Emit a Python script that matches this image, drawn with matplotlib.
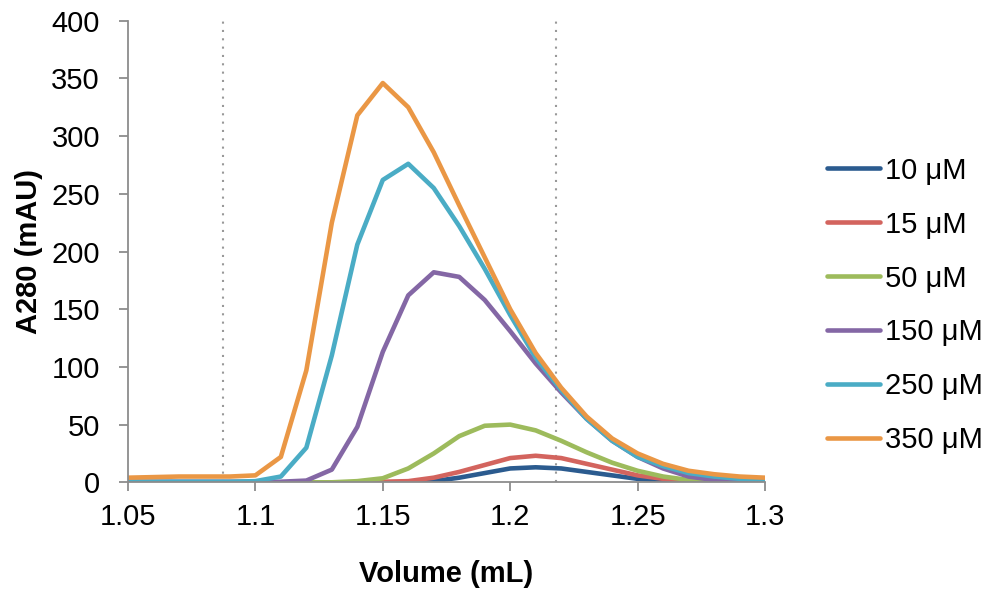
import numpy as np
import matplotlib; matplotlib.use('Agg')
import matplotlib.pyplot as plt

plt.rcParams['font.family'] = ['Liberation Sans', 'DejaVu Sans']

#===============================================================================
# Data (volume in mL, A280 in mAU)
#===============================================================================
volume = [1.05, 1.06, 1.07, 1.08, 1.09, 1.10, 1.11, 1.12, 1.13, 1.14, 1.15,
          1.16, 1.17, 1.18, 1.19, 1.20, 1.21, 1.22, 1.23, 1.24, 1.25, 1.26,
          1.27, 1.28, 1.29, 1.30]

a_10uM  = [0, 0, 0, 0, 0, 0, 0, 0, 0, 0, 0,
           0, 1, 4, 8, 12, 13, 12, 9, 6, 3, 1.5, 0.5, 0, 0, 0]
a_15uM  = [0, 0, 0, 0, 0, 0, 0, 0, 0, 0, 0.5,
           1, 4, 9, 15, 21, 23, 21, 16, 11, 6, 3, 1, 0.5, 0, 0]
a_50uM  = [0, 0, 0, 0, 0, 0, 0, 0, 0, 1, 3.5,
           12, 25, 40, 49, 50, 45, 36, 26, 17, 10, 5, 2, 1, 0.5, 0.5]
a_150uM = [0.5, 0.5, 0.5, 0.5, 0.5, 0.5, 0.5, 1.5, 11, 48, 113,
           162, 182, 178, 158, 131, 103, 78, 55, 36, 22, 12, 5, 2, 1, 0.5]
a_250uM = [0.5, 0.5, 0.5, 0.5, 0.5, 1, 5, 30, 110, 206, 262,
           276, 255, 222, 185, 145, 108, 80, 55, 36, 22, 14, 8, 5, 3, 2]
a_350uM = [4, 4.5, 5, 5, 5, 6, 22, 97, 225, 318, 346,
           325, 286, 240, 195, 150, 112, 82, 57, 38, 25, 16, 10, 7, 5, 4]

labels = ['10 μM', '15 μM', '50 μM', '150 μM', '250 μM', '350 μM']
series = [a_10uM, a_15uM, a_50uM, a_150uM, a_250uM, a_350uM]
colors = ['#2B5B8F', '#D3645E', '#9DBB5C', '#8467A5', '#4AACC5', '#EA9745']

# fraction boundaries (dotted markers)
cut_lo = 1.0873
cut_hi = 1.2180

#===============================================================================
# Plot
#===============================================================================
fig = plt.figure(figsize=(9.89, 5.92), dpi=100)
ax = fig.add_axes([0.1294, 0.1853, 0.6441, 0.7797])

for y, lab, col in zip(series, labels, colors):
    ax.plot(volume, y, color=col, lw=3.3, label=lab, solid_capstyle='round')

ax.axvline(cut_lo, color='#999999', ls=(0, (1, 3)), lw=1.5, zorder=0)
ax.axvline(cut_hi, color='#999999', ls=(0, (1, 3)), lw=1.5, zorder=0)

ax.set_xlim(1.05, 1.3)
ax.set_ylim(0, 400)
ax.set_xticks([1.05, 1.1, 1.15, 1.2, 1.25, 1.3])
ax.set_xticklabels(['1.05', '1.1', '1.15', '1.2', '1.25', '1.3'])
ax.set_yticks(range(0, 401, 50))

for s in ['top', 'right']:
    ax.spines[s].set_visible(False)
for s in ['left', 'bottom']:
    ax.spines[s].set_color('#8C8C8C')
    ax.spines[s].set_linewidth(1.3)
ax.tick_params(colors='#8C8C8C', labelcolor='black', labelsize=21,
               length=6.7, width=1.3, direction='out')
ax.tick_params(axis='x', pad=8)
ax.tick_params(axis='y', pad=13.5)

ax.set_xlabel('Volume (mL)', fontsize=21, fontweight='bold')
ax.set_ylabel('A280 (mAU)', fontsize=21, fontweight='bold')
ax.xaxis.set_label_coords(0.5, -0.168)
ax.yaxis.set_label_coords(-0.134, 0.5)

ax.legend(loc='center left', bbox_to_anchor=(1.097, 0.383), frameon=False,
          fontsize=21, handlelength=1.83, handletextpad=0.17, labelspacing=0.89,
          borderpad=0, borderaxespad=0)

plt.savefig('out.png', dpi=100)
